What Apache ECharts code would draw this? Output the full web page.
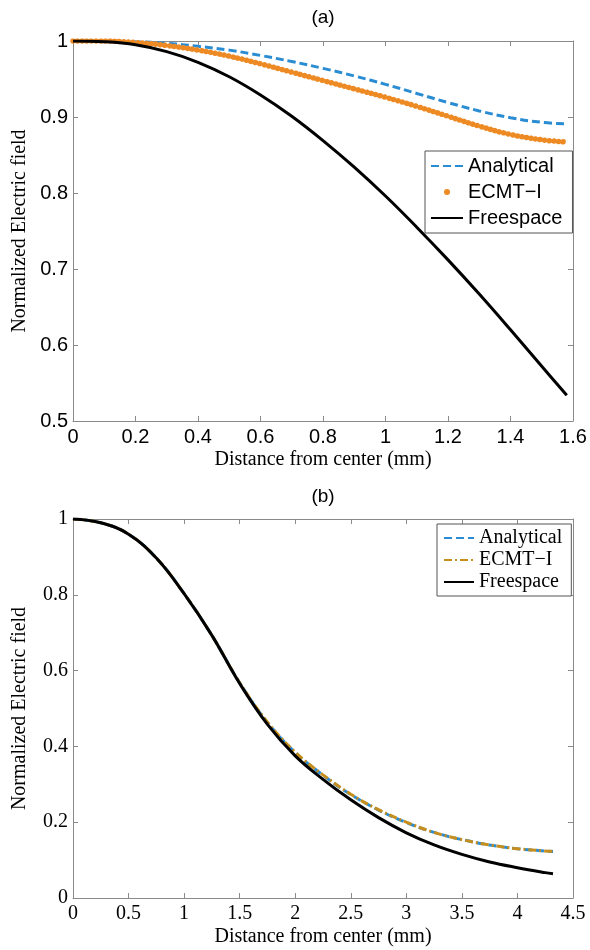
<!DOCTYPE html>
<html>
<head>
<meta charset="utf-8">
<script src="https://cdn.jsdelivr.net/npm/echarts@6/dist/echarts.min.js"></script>
<style>
html,body{margin:0;padding:0;background:#fff;}
#chart{width:590px;height:950px;}
</style>
</head>
<body>
<div id="chart"></div>
<script>
// ---------- Panel (a) ----------
const xA = [0, 0.1, 0.2, 0.3, 0.4, 0.5, 0.6, 0.7, 0.8, 0.9, 1.0, 1.1, 1.2, 1.3, 1.4, 1.5, 1.58];
const analyticalA = [1.000, 1.000, 0.999, 0.997, 0.993, 0.988, 0.981, 0.973, 0.964, 0.954, 0.943, 0.931, 0.919, 0.908, 0.899, 0.893, 0.891];
const ecmtA =       [1.000, 1.000, 0.998, 0.994, 0.988, 0.980, 0.970, 0.959, 0.948, 0.937, 0.926, 0.914, 0.901, 0.888, 0.877, 0.870, 0.867];
const freespaceA =  [1.000, 0.999, 0.995, 0.986, 0.972, 0.953, 0.929, 0.901, 0.869, 0.834, 0.796, 0.755, 0.712, 0.667, 0.620, 0.572, 0.534];
const xTicksA = ['0', '0.2', '0.4', '0.6', '0.8', '1', '1.2', '1.4', '1.6'];
const yTicksA = ['0.5', '0.6', '0.7', '0.8', '0.9', '1'];

// ---------- Panel (b) ----------
const xB = [0, 0.25, 0.5, 0.75, 1.0, 1.25, 1.5, 1.75, 2.0, 2.25, 2.5, 2.75, 3.0, 3.25, 3.5, 3.75, 4.0, 4.25, 4.32];
const analyticalB = [1.000, 0.990, 0.960, 0.897, 0.803, 0.693, 0.568, 0.463, 0.384, 0.324, 0.273, 0.232, 0.199, 0.173, 0.154, 0.140, 0.130, 0.124, 0.123];
const ecmtB =       [1.000, 0.990, 0.960, 0.897, 0.803, 0.693, 0.568, 0.464, 0.385, 0.325, 0.274, 0.233, 0.200, 0.173, 0.154, 0.140, 0.130, 0.124, 0.123];
const freespaceB =  [1.000, 0.990, 0.960, 0.897, 0.803, 0.693, 0.566, 0.458, 0.375, 0.313, 0.259, 0.212, 0.172, 0.140, 0.115, 0.095, 0.080, 0.067, 0.064];
const xTicksB = ['0', '0.5', '1', '1.5', '2', '2.5', '3', '3.5', '4', '4.5'];
const yTicksB = ['0', '0.2', '0.4', '0.6', '0.8', '1'];

const titles = ['(a)', '(b)'];
const seriesNames = ['Analytical', 'ECMT\u2212I', 'Freespace'];
const xName = 'Distance from center (mm)';
const yName = 'Normalized Electric field';

const pair = (xs, ys) => xs.map((x, i) => [x, ys[i]]);

const SANS = 'Liberation Sans, Arial, sans-serif';
const SERIF = 'Liberation Serif, Times New Roman, serif';
const AXIS_GRAY = '#8a8a8a';

function baseAxis(gridIndex, min, max, interval) {
  return {
    gridIndex, type: 'value', min, max, interval,
    axisLine: { show: true, onZero: false, lineStyle: { color: AXIS_GRAY, width: 1 } },
    axisTick: { show: true, inside: true, length: 5, lineStyle: { color: AXIS_GRAY, width: 1 } },
    splitLine: { show: false }
  };
}

function mkX(gridIndex, min, max, interval, font) {
  const b = baseAxis(gridIndex, min, max, interval);
  const bottom = Object.assign({}, b, {
    position: 'bottom',
    name: xName, nameLocation: 'middle', nameGap: 29,
    nameTextStyle: { fontFamily: SERIF, fontSize: 20, color: '#000' },
    axisLabel: { show: true, margin: 6, fontFamily: font, fontSize: 20, color: '#000',
      formatter: v => String(+v.toFixed(2)) }
  });
  const top = Object.assign({}, b, { position: 'top', axisLabel: { show: false } });
  return [bottom, top];
}
function mkY(gridIndex, min, max, interval, font) {
  const b = baseAxis(gridIndex, min, max, interval);
  const left = Object.assign({}, b, {
    position: 'left',
    name: yName, nameLocation: 'middle', nameGap: 43,
    nameTextStyle: { fontFamily: SERIF, fontSize: 20, color: '#000' },
    axisLabel: { show: true, margin: 5, fontFamily: font, fontSize: 20, color: '#000',
      formatter: v => String(+v.toFixed(2)) }
  });
  const right = Object.assign({}, b, { position: 'right', axisLabel: { show: false } });
  return [left, right];
}

const xAxes = [].concat(mkX(0, 0, 1.6, 0.2, SANS), mkX(1, 0, 4.5, 0.5, SERIF));
const yAxes = [].concat(mkY(0, 0.5, 1, 0.1, SANS), mkY(1, 0, 1, 0.2, SERIF));

const BLUE = '#2a8cd2';
const ORANGE = '#ee8a24';
const GOLD = '#c68e1c';

function lineSeries(name, xi, data, color, lineStyle) {
  return {
    name, type: 'line', xAxisIndex: xi, yAxisIndex: xi, data,
    smooth: 0.4, symbol: 'none',
    lineStyle: Object.assign({ color }, lineStyle), itemStyle: { color }
  };
}

const series = [
  lineSeries(seriesNames[0], 0, pair(xA, analyticalA), BLUE, { width: 3, type: [8, 4] }),
  lineSeries(seriesNames[1], 0, pair(xA, ecmtA), ORANGE, { width: 5.5, type: [0.01, 4.6], cap: 'round' }),
  lineSeries(seriesNames[2], 0, pair(xA, freespaceA), '#000', { width: 3 }),
  lineSeries(seriesNames[0] + ' (b)', 2, pair(xB, analyticalB), BLUE, { width: 3, type: [8, 4] }),
  lineSeries(seriesNames[1] + ' (b)', 2, pair(xB, ecmtB), GOLD, { width: 3, type: [8, 3, 2, 3] }),
  lineSeries(seriesNames[2] + ' (b)', 2, pair(xB, freespaceB), '#000', { width: 3 })
];

const option = {
  animation: false,
  backgroundColor: '#fff',
  title: [
    { text: titles[0], left: 323, top: 8, textAlign: 'center', padding: 0,
      textStyle: { fontFamily: SANS, fontSize: 19, fontWeight: 'normal', color: '#000' } },
    { text: titles[1], left: 323, top: 487, textAlign: 'center', padding: 0,
      textStyle: { fontFamily: SANS, fontSize: 19, fontWeight: 'normal', color: '#000' } }
  ],
  grid: [
    { left: 73, right: 17, top: 41, height: 380 },
    { left: 73, right: 17, top: 519, height: 379 }
  ],
  xAxis: xAxes,
  yAxis: yAxes,
  legend: [
    {
      orient: 'vertical', left: 425, top: 151, selectedMode: false,
      padding: [5, 10, 5, 5], itemGap: 6, itemWidth: 32, itemHeight: 6,
      backgroundColor: '#fff', borderColor: '#555', borderWidth: 1,
      itemStyle: { opacity: 0 },
      textStyle: { fontFamily: SANS, fontSize: 20, color: '#000', lineHeight: 20 },
      data: [
        { name: seriesNames[0] },
        { name: seriesNames[1], icon: 'circle', itemStyle: { color: ORANGE, borderWidth: 0, opacity: 1 } },
        { name: seriesNames[2] }
      ]
    },
    {
      orient: 'vertical', left: 437, top: 524, selectedMode: false,
      padding: [4, 9, 4, 6], itemGap: 2, itemWidth: 30, itemHeight: 6,
      backgroundColor: '#fff', borderColor: '#555', borderWidth: 1,
      itemStyle: { opacity: 0 },
      textStyle: { fontFamily: SERIF, fontSize: 20, color: '#000', lineHeight: 20 },
      formatter: n => n.replace(' (b)', ''),
      data: seriesNames.map(n => ({ name: n + ' (b)' }))
    }
  ],
  series
};

const chart = echarts.init(document.getElementById('chart'), null, { renderer: 'canvas' });
chart.setOption(option);
</script>
</body>
</html>
